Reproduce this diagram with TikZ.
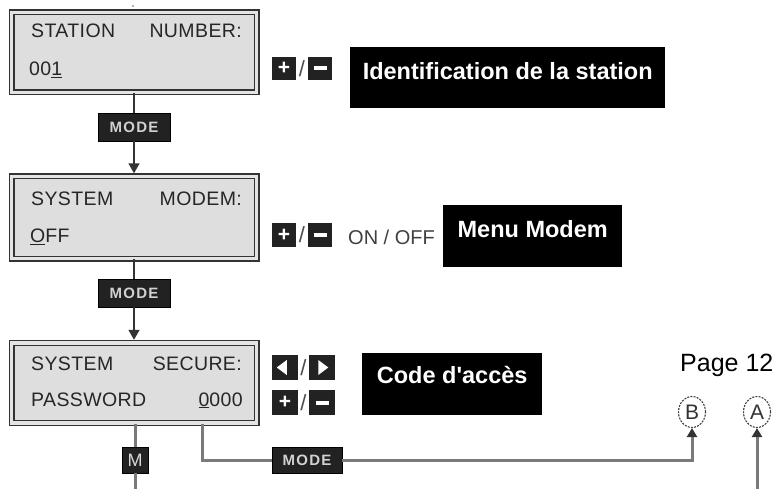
\documentclass[tikz,border=0pt]{standalone}
\usepackage{fontspec}
\usepackage{graphicx}
\setmainfont{Liberation Sans}
\newfontfamily\lcdfont[LetterSpace=2]{Liberation Sans}
\newfontfamily\modefont[LetterSpace=8]{Liberation Sans}
\newfontfamily\labfont{Liberation Sans}
\usetikzlibrary{shapes.geometric,arrows.meta}
\definecolor{lcdfill}{HTML}{DEDEDE}
\definecolor{lcdgap}{HTML}{E4E4E4}
\definecolor{framec}{HTML}{333333}
\definecolor{btnc}{HTML}{222222}
\definecolor{connc}{HTML}{7A7A7A}
\definecolor{darkc}{HTML}{333333}
\begin{document}
\begin{tikzpicture}[x=1pt,y=-1pt,
  lcd/.style={draw=framec, line width=1.4pt, double=lcdgap, double distance=3.2pt,
    fill=lcdfill, minimum width=245pt, minimum height=80pt, inner sep=0pt},
  lcdtxt/.style={font=\lcdfont\fontsize{19.5}{19.5}\selectfont, text=black!85, inner sep=0pt},
  modebox/.style={fill=btnc, draw=black, line width=0.8pt, minimum width=72pt,
    minimum height=28pt, inner sep=0pt, text=black!18,
    font=\modefont\bfseries\fontsize{15}{15}\selectfont},
  btn/.style={fill=btnc, minimum width=24pt, minimum height=23pt, inner sep=0pt, text=white},
  btnb/.style={btn, minimum width=26pt, minimum height=25pt},
  plussym/.style={font=\bfseries\fontsize{21}{21}\selectfont},
  slash/.style={font=\fontsize{22}{22}\selectfont, text=black!70, inner sep=0pt},
  tri/.style={isosceles triangle, isosceles triangle stretches, fill=white,
    minimum height=10pt, minimum width=15pt, inner sep=0pt},
  lab/.style={fill=black, text=white, font=\labfont\bfseries\fontsize{23.5}{23.5}\selectfont,
    inner xsep=0pt, inner ysep=0pt, anchor=north west},
  dk/.style={draw=darkc, line width=1.6pt},
  gy/.style={draw=connc, line width=3pt},
  tipbig/.style={-{Triangle[width=11pt,length=10pt]}, shorten >=2.5pt},
  tipsmall/.style={-{Triangle[width=10pt,length=9pt,color=black!80]}},
  circ/.style={ellipse, draw=black!75, dash pattern=on 2pt off 1.2pt, line width=1.1pt,
    minimum width=27pt, minimum height=31pt, inner sep=0pt,
    font=\fontsize{21}{21}\selectfont, text=black!80}
]
\useasboundingbox (0,0) rectangle (779,489);
\fill[black!60] (133,6) circle (0.8);

% LCD 1
\node[lcd] (lcd1) at (134,52.5) {};
\node[lcdtxt, anchor=base west] (t1a) at (31,38) {STATION};
\node[lcdtxt, anchor=base east] (t1b) at (242,38) {NUMBER:};
\node[lcdtxt, anchor=base west] (t1c) at (29,76) {00\underline{1}};

% LCD 2
\node[lcd, minimum height=82pt] (lcd2) at (134,217.5) {};
\node[lcdtxt, anchor=base west] (t2a) at (31,206) {SYSTEM};
\node[lcdtxt, anchor=base east] (t2b) at (242,206) {MODEM:};
\node[lcdtxt, anchor=base west] (t2c) at (30,243) {\underline{O}FF};

% LCD 3
\node[lcd] (lcd3) at (134,383) {};
\node[lcdtxt, anchor=base west] (t3a) at (31,370) {SYSTEM};
\node[lcdtxt, anchor=base east] (t3b) at (242,370) {SECURE:};
\node[lcdtxt, anchor=base west] (t3c) at (31,406) {PASSWORD};
\node[lcdtxt, anchor=base east] (t3d) at (243,406) {\underline{0}000};

% mode boxes
\node[modebox] (mode1) at (134,127) {MODE};
\node[modebox] (mode2) at (134,293) {MODE};
\node[modebox, minimum width=70pt, minimum height=26pt] (mode3) at (307,460) {MODE};
\node[fill=btnc, draw=black, line width=0.8pt, minimum width=26pt, minimum height=26pt,
  inner sep=0pt, text=black!15, font=\fontsize{18}{18}\selectfont] (mbox) at (135,460) {M};

% buttons row 1
\node[btn] (p1) at (284,68.5) {\tikz[baseline]\node[plussym,inner sep=0pt,text=white]{+};};
\node[slash] (s1) at (302,68.5) {/};
\node[btn] (m1) at (320,68.5) {\rule{13pt}{4pt}};
% buttons row 2
\node[btn] (p2) at (284,235) {\tikz[baseline]\node[plussym,inner sep=0pt,text=white]{+};};
\node[slash] (s2) at (302,235) {/};
\node[btn] (m2) at (320,235) {\rule{13pt}{4pt}};
\node[anchor=base west, font=\fontsize{20}{20}\selectfont, text=black!75, inner sep=0pt] (onoff) at (348,244) {ON / OFF};
% buttons row 3
\node[btnb] (la) at (285,367.5) {};
\node[tri, shape border rotate=180] (lat) at (283,367.5) {};
\node[slash] (s3) at (303.5,367.5) {/};
\node[btnb] (ra) at (322,367.5) {};
\node[tri] (rat) at (322,367.5) {};
\node[btnb] (p3) at (285,402.5) {\tikz[baseline]\node[plussym,inner sep=0pt,text=white]{+};};
\node[slash] (s4) at (303.5,402.5) {/};
\node[btnb] (m3) at (322,402.5) {\rule{13pt}{4pt}};

% black labels
\node[lab, minimum width=315pt, text height=32pt, text depth=29pt] (lab1) at (350,47) {Identification de la station};
\node[lab, minimum width=179pt, text height=32pt, text depth=30pt] (lab2) at (443,205) {Menu Modem};
\node[lab, minimum width=180pt, text height=30pt, text depth=32pt] (lab3) at (362,353) {Code d'accès};

\node[anchor=base west, font=\fontsize{25}{25}\selectfont, inner sep=0pt] (page) at (680,371) {Page 12};

% circles
\node[circ] (B) at (692,412) {B};
\node[circ] (A) at (757,412) {A};

% connectors
\draw[dk] (lcd1.south) -- (mode1.north);
\draw[dk, tipbig] (mode1.south) -- (lcd2.north);
\draw[dk] (lcd2.south) -- (mode2.north);
\draw[dk, tipbig] (mode2.south) -- (lcd3.north);

\coordinate (mend) at (135,489);
\draw[gy] (mbox |- lcd3.south) -- (mbox.north);
\draw[gy] (mbox.south) -- (mend);
\draw[gy] ([xshift=68pt]lcd3.south) |- (mode3.west);
\draw[gy, tipsmall] (mode3.east) -| (B.south);
\coordinate (aend) at (757,489);
\draw[gy, tipsmall] (aend) -- (A.south);
\end{tikzpicture}
\end{document}
